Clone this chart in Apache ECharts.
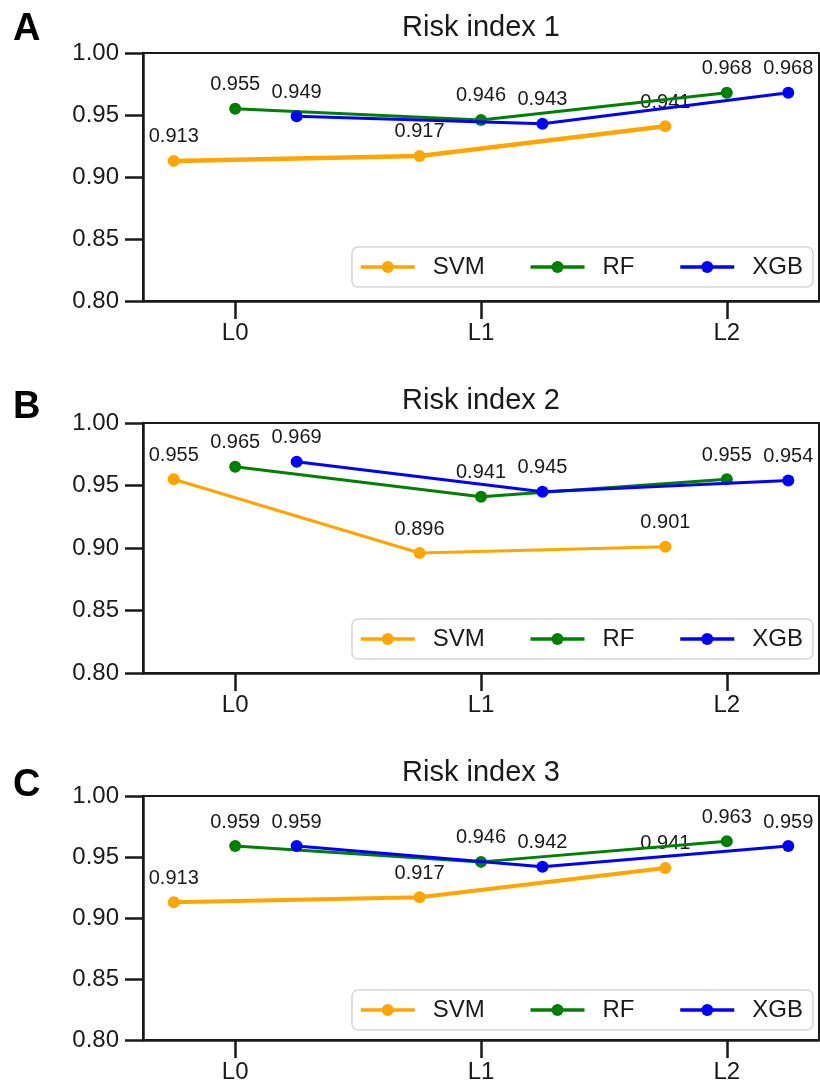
<!DOCTYPE html>
<html><head><meta charset="utf-8">
<script src="https://cdn.jsdelivr.net/npm/echarts@6/dist/echarts.min.js"></script>
<style>html,body{margin:0;padding:0;background:#fff}#c{width:820px;height:1084px}</style>
</head><body><div id="c"></div>
<script>
// ---- data ----
const levels = ['L0', 'L1', 'L2'];
const models = ['SVM', 'RF', 'XGB'];
const panelTitles = ['Risk index 1', 'Risk index 2', 'Risk index 3'];
const panelLetters = ['A', 'B', 'C'];
const yMin = 0.80, yMax = 1.00, yStep = 0.05;

const svm1 = [0.913, 0.917, 0.941];
const rf1  = [0.955, 0.946, 0.968];
const xgb1 = [0.949, 0.943, 0.968];

const svm2 = [0.955, 0.896, 0.901];
const rf2  = [0.965, 0.941, 0.955];
const xgb2 = [0.969, 0.945, 0.954];

const svm3 = [0.913, 0.917, 0.941];
const rf3  = [0.959, 0.946, 0.963];
const xgb3 = [0.959, 0.942, 0.959];

const panelData = [[svm1, rf1, xgb1], [svm2, rf2, xgb2], [svm3, rf3, xgb3]];

// ---- style / layout ----
const FONT = '"Liberation Sans", Arial, Helvetica, sans-serif';
const INK = '#1a1a1a';
const colors = ['#FFA500', '#008000', '#0000FF'];
const offsets = [-0.25, 0, 0.25];
const gridTops = [53, 423, 796];
const gridHeights = [248, 250, 248];
const legendTops = [247, 619, 990];
const titleTops = [13, 386, 758];
const letterTops = [11, 389, 767];
const lineWidths = [[4.5, 3, 3], [3.2, 3, 3], [4, 3, 3]];

const grids = [], xAxes = [], yAxes = [], series = [], legends = [], titles = [];

for (let i = 0; i < 3; i++) {
  grids.push({left: 143, right: 1, top: gridTops[i], height: gridHeights[i],
    show: true, borderColor: INK, borderWidth: 2, backgroundColor: 'transparent', containLabel: false});
  xAxes.push({gridIndex: i, type: 'value', min: -0.375, max: 2.375,
    axisLine: {show: true, onZero: false, lineStyle: {color: INK, width: 2.5}},
    axisTick: {show: true, length: 18, customValues: [0, 1, 2], lineStyle: {color: INK, width: 2.5}},
    axisLabel: {show: true, customValues: [0, 1, 2], formatter: v => levels[Math.round(v)],
      fontSize: 24, color: INK, fontFamily: FONT, margin: 20},
    splitLine: {show: false}});
  yAxes.push({gridIndex: i, type: 'value', min: yMin, max: yMax, interval: yStep,
    axisLine: {show: true, onZero: false, lineStyle: {color: INK, width: 2.5}},
    axisTick: {show: true, length: 18, lineStyle: {color: INK, width: 2.5}},
    axisLabel: {fontSize: 24, color: INK, fontFamily: FONT, margin: 24, formatter: v => v.toFixed(2)},
    splitLine: {show: false}});
  models.forEach((m, k) => {
    series.push({name: m, type: 'line', xAxisIndex: i, yAxisIndex: i,
      data: panelData[i][k].map((v, j) => [j + offsets[k], v]),
      symbol: 'circle', symbolSize: 12, color: colors[k],
      lineStyle: {width: lineWidths[i][k], color: colors[k]},
      itemStyle: {color: colors[k]},
      label: {show: true, position: 'top', distance: 8, fontSize: 20, color: INK, fontFamily: FONT,
        formatter: p => p.value[1].toFixed(3)},
      emphasis: {disabled: true}, animation: false, z: 2 + k});
  });
  legends.push({data: models, left: 352, top: legendTops[i], orient: 'horizontal',
    itemWidth: 54, itemHeight: 15, itemGap: 44, padding: [8, 10, 8, 7],
    backgroundColor: 'rgba(255,255,255,0.85)', borderColor: '#d6d6d6', borderWidth: 1.5, borderRadius: 6,
    selectedMode: false,
    lineStyle: {width: 3.5},
    textStyle: {fontSize: 24, color: INK, fontFamily: FONT, padding: [0, 0, 0, 13]}});
  titles.push({text: panelTitles[i], left: 481, top: titleTops[i], textAlign: 'center', padding: 0,
    textStyle: {fontSize: 29, fontWeight: 'normal', color: INK, fontFamily: FONT}});
  titles.push({text: panelLetters[i], left: 13, top: letterTops[i], padding: 0,
    textStyle: {fontSize: 38, fontWeight: 'bold', color: '#000', fontFamily: FONT}});
}

const chart = echarts.init(document.getElementById('c'), null, {renderer: 'canvas'});
chart.setOption({animation: false, backgroundColor: '#fff', title: titles, legend: legends,
  grid: grids, xAxis: xAxes, yAxis: yAxes, series: series});
</script></body></html>
